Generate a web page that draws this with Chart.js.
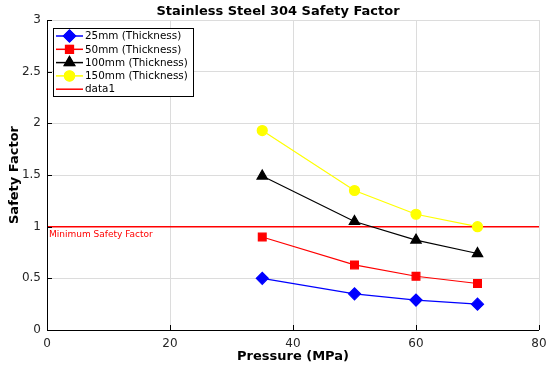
<!DOCTYPE html>
<html lang="en">
<head>
  <meta charset="UTF-8">
  <title>Stainless Steel 304 Safety Factor</title>
  <script src="https://cdn.jsdelivr.net/npm/chart.js"></script>
  <style>
    body { margin: 0; background: #fff; }
    #wrap { width: 550px; height: 370px; }
  </style>
</head>
<body>
<div id="wrap"><canvas id="sfChart" width="550" height="370"></canvas></div>
<script>
  // data
  var pressure = [35, 50, 60, 70];
  var sf25 = [0.50, 0.35, 0.29, 0.25];
  var sf50 = [0.90, 0.63, 0.52, 0.45];
  var sf100 = [1.49, 1.05, 0.87, 0.74];
  var sf150 = [1.93, 1.35, 1.12, 1.00];
  var minLine = [1, 1];
  var minLineX = [0, 80];
  var xTicks = [0, 20, 40, 60, 80];
  var yTicks = [0, 0.5, 1, 1.5, 2, 2.5, 3];

  function pts(xs, ys) {
    return xs.map(function(x, i) { return { x: x, y: ys[i] }; });
  }

  var FONT = 'DejaVu Sans';

  // title, inward ticks, the legend box and the red label
  var decor = {
    id: 'decor',
    afterDraw: function(chart) {
      var ctx = chart.ctx, a = chart.chartArea;
      var xs = chart.scales.x, ys = chart.scales.y;
      ctx.save();
      // axes
      ctx.strokeStyle = '#000';
      ctx.lineWidth = 1;
      ctx.beginPath();
      ctx.moveTo(a.left + 0.5, a.top);
      ctx.lineTo(a.left + 0.5, a.bottom + 0.5);
      ctx.lineTo(a.right, a.bottom + 0.5);
      ctx.stroke();
      ctx.beginPath();
      xTicks.forEach(function(v) {
        var px = Math.round(xs.getPixelForValue(v)) + 0.5;
        ctx.moveTo(px, a.bottom); ctx.lineTo(px, a.bottom - 5);
      });
      yTicks.forEach(function(v) {
        var py = Math.round(ys.getPixelForValue(v)) + 0.5;
        ctx.moveTo(a.left, py); ctx.lineTo(a.left + 5, py);
      });
      ctx.stroke();

      // title
      ctx.fillStyle = '#000';
      ctx.font = 'bold 13px "' + FONT + '"';
      ctx.textAlign = 'center';
      ctx.textBaseline = 'middle';
      ctx.fillText('Stainless Steel 304 Safety Factor', 278, 12);

      // red label under minimum line
      ctx.fillStyle = '#ff0000';
      ctx.font = '9px "' + FONT + '"';
      ctx.textAlign = 'left';
      ctx.fillText('Minimum Safety Factor', a.left + 2, ys.getPixelForValue(1) + 7.5);

      // legend
      var lx = 53, ly = 28, lw = 140, lh = 68;
      ctx.fillStyle = '#fff';
      ctx.fillRect(lx, ly, lw, lh);
      ctx.strokeStyle = '#000';
      ctx.strokeRect(lx + 0.5, ly + 0.5, lw, lh);
      ctx.font = '10.4px "' + FONT + '"';
      chart.data.datasets.forEach(function(ds, i) {
        var cy = ly + 8 + i * 13.3;
        ctx.strokeStyle = ds.borderColor;
        ctx.lineWidth = 1.5;
        ctx.beginPath();
        ctx.moveTo(lx + 3, cy); ctx.lineTo(lx + 30, cy);
        ctx.stroke();
        if (ds.pointStyle) {
          Chart.helpers.drawPoint(ctx, {
            pointStyle: ds.pointStyle, radius: ds.pointRadius, rotation: 0, borderWidth: 1
          }, lx + 16.5, cy);
          ctx.fillStyle = ds.pointBackgroundColor;
          ctx.strokeStyle = ds.pointBorderColor;
          ctx.lineWidth = 1;
          ctx.fill(); ctx.stroke();
        }
        ctx.fillStyle = '#000';
        ctx.fillText(ds.label, lx + 32, cy + 0.5);
      });
      ctx.restore();
    }
  };

  var ctx = document.getElementById('sfChart').getContext('2d');
  window.sfChart = new Chart(ctx, {
    type: 'line',
    data: {
      datasets: [
        { label: '25mm (Thickness)', data: pts(pressure, sf25), borderColor: '#0000ff', borderWidth: 1.2,
          pointStyle: 'rectRot', pointRadius: 6, pointBackgroundColor: '#0000ff', pointBorderColor: '#0000ff' },
        { label: '50mm (Thickness)', data: pts(pressure, sf50), borderColor: '#ff0000', borderWidth: 1.2,
          pointStyle: 'rect', pointRadius: 5.5, pointBackgroundColor: '#ff0000', pointBorderColor: '#ff0000' },
        { label: '100mm (Thickness)', data: pts(pressure, sf100), borderColor: '#000000', borderWidth: 1.2,
          pointStyle: 'triangle', pointRadius: 6, pointBackgroundColor: '#000000', pointBorderColor: '#000000' },
        { label: '150mm (Thickness)', data: pts(pressure, sf150), borderColor: '#ffff00', borderWidth: 1.2,
          pointStyle: 'circle', pointRadius: 5, pointBackgroundColor: '#ffff00', pointBorderColor: '#ffff00' },
        { label: 'data1', data: pts(minLineX, minLine), borderColor: '#ff0000', borderWidth: 1.5,
          pointStyle: false, pointRadius: 0 }
      ]
    },
    options: {
      animation: false,
      responsive: false,
      layout: { padding: { top: 20, right: 11, left: 0, bottom: 0 } },
      plugins: { legend: { display: false }, tooltip: { enabled: false } },
      scales: {
        x: {
          type: 'linear', min: 0, max: 80,
          afterBuildTicks: function(s) { s.ticks = xTicks.map(function(v) { return { value: v }; }); },
          afterFit: function(s) { s.height = 40; s.paddingLeft = 0; s.paddingRight = 0; },
          grid: { color: '#dcdcdc', drawTicks: false, lineWidth: 1 },
          border: { display: false },
          ticks: { color: '#262626', font: { family: FONT, size: 12 }, padding: 7, maxRotation: 0 },
          title: { display: true, text: 'Pressure (MPa)', color: '#000',
                   font: { family: FONT, size: 13, weight: 'bold' }, padding: { top: 0, bottom: 6 } }
        },
        y: {
          min: 0, max: 3,
          afterBuildTicks: function(s) { s.ticks = yTicks.map(function(v) { return { value: v }; }); },
          afterFit: function(s) { s.width = 47; s.paddingTop = 0; s.paddingBottom = 0; },
          grid: { color: '#dcdcdc', drawTicks: false, lineWidth: 1 },
          border: { display: false },
          ticks: { color: '#262626', font: { family: FONT, size: 12 }, padding: 6,
                   callback: function(v) { return String(v); } },
          title: { display: true, text: 'Safety Factor', color: '#000',
                   font: { family: FONT, size: 13, weight: 'bold' }, padding: { top: 7, bottom: 0 } }
        }
      }
    },
    plugins: [decor]
  });
</script>
</body>
</html>
